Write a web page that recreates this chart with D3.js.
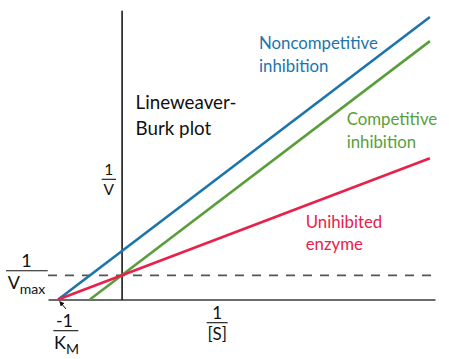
<!DOCTYPE html>
<html>
<head>
<meta charset="utf-8">
<script src="https://cdn.jsdelivr.net/npm/d3@7"></script>
<style>
  html, body { margin: 0; padding: 0; background: #fff; }
  svg { display: block; }
  text { font-family: Lato, "Open Sans", sans-serif; }
</style>
</head>
<body>
<svg id="chart" width="449" height="359"></svg>
<script>
// ---- data (1/[S] on x, 1/V on y; units of 1/Km and 1/Vmax) ----
const seriesNames = ["Noncompetitive", "Competitive", "Unihibited"];
const seriesLabels = [["Noncompetitive", "inhibition"], ["Competitive", "inhibition"], ["Unihibited", "enzyme"]];
const seriesX = [[-1, 4.86], [-0.5, 4.86], [-1, 4.86]];
const seriesY = [[0, 11.72], [0, 10.72], [0, 5.86]];
const seriesColors = ["#1b75ab", "#5a9e3c", "#e8214a"];
const xDomain = [-1.16, 4.94];
const yDomain = [0, 12];
const invVmax = 1;
const negInvKm = -1;

const svg = d3.select("#chart");
const x = d3.scaleLinear().domain(xDomain).range([48, 435]);
const y = d3.scaleLinear().domain(yDomain).range([299.5, 10.3]);

// axes (lines only)
const xAxis = svg.append("g").attr("transform", `translate(0,${y(0)})`)
  .call(d3.axisBottom(x).tickValues([]).tickSizeOuter(0));
xAxis.select(".domain").attr("stroke", "#3a3a3a").attr("stroke-width", 1.6);
const yAxis = svg.append("g").attr("transform", `translate(${x(0)},0)`)
  .call(d3.axisLeft(y).tickValues([]).tickSizeOuter(0));
yAxis.select(".domain").attr("stroke", "#1a1a1a").attr("stroke-width", 1.6);

// dashed 1/Vmax line
svg.append("line")
  .attr("x1", x(xDomain[0])).attr("x2", x(xDomain[1]))
  .attr("y1", y(invVmax)).attr("y2", y(invVmax))
  .attr("stroke", "#555").attr("stroke-width", 1.6)
  .attr("stroke-dasharray", "9,8");

// lines
const line = d3.line().x(d => x(d[0])).y(d => y(d[1]));
seriesNames.forEach((name, i) => {
  const pts = seriesX[i].map((xv, j) => [xv, seriesY[i][j]]);
  svg.append("path").datum(pts)
    .attr("d", line)
    .attr("fill", "none")
    .attr("stroke", seriesColors[i])
    .attr("stroke-width", 2.6);
});

// series labels
const labelPos = [[259, 49.3], [346.7, 125], [305.7, 227.7]];
const lh = 22.5;
seriesLabels.forEach((lines, i) => {
  const t = svg.append("text")
    .attr("x", labelPos[i][0]).attr("y", labelPos[i][1])
    .attr("fill", seriesColors[i])
    .attr("font-size", 16.8);
  lines.forEach((s, k) => {
    t.append("tspan").attr("x", labelPos[i][0]).attr("y", labelPos[i][1] + k * lh).text(s);
  });
});

// title
const title = svg.append("text").attr("font-size", 18.8).attr("fill", "#111");
title.append("tspan").attr("x", 135.5).attr("y", 109.3).text("Lineweaver-");
title.append("tspan").attr("x", 135.5).attr("y", 135).text("Burk plot");

// fraction helper
function fraction(cx, barY, barX1, barX2, num, den, sub, fs, dx) {
  svg.append("text").attr("x", cx).attr("y", barY - 4).attr("text-anchor", "middle")
    .attr("font-size", fs).attr("fill", "#111").text(num);
  svg.append("line").attr("x1", barX1).attr("x2", barX2).attr("y1", barY).attr("y2", barY)
    .attr("stroke", "#111").attr("stroke-width", 1.1);
  const d = svg.append("text").attr("x", cx + (dx || 0)).attr("y", barY + fs + 0.5)
    .attr("text-anchor", "middle").attr("font-size", fs).attr("fill", "#111");
  d.append("tspan").text(den);
  if (sub) d.append("tspan").attr("font-size", fs * 0.78).attr("dy", 5).text(sub);
}

fraction(108.8, 179.3, 101.7, 116, "1", "V", null, 15.5);
fraction(26.5, 270.7, 6, 47.7, "1", "V", "max", 18);
fraction(64.5, 330.7, 53.3, 78.3, "-1", "K", "M", 18, 2);
fraction(217.2, 322.7, 206.7, 227.7, "1", "[S]", null, 17);

// arrow pointing to -1/Km
svg.append("defs").append("marker").attr("id", "ah")
  .attr("viewBox", "0 0 10 10").attr("refX", 9).attr("refY", 5)
  .attr("markerWidth", 5).attr("markerHeight", 5).attr("orient", "auto")
  .append("path").attr("d", "M0,0L10,5L0,10z").attr("fill", "#111");
svg.append("line")
  .attr("x1", 66).attr("y1", 309).attr("x2", x(negInvKm) + 1.5).attr("y2", y(0) + 2)
  .attr("stroke", "#111").attr("stroke-width", 1).attr("marker-end", "url(#ah)");
</script>
</body>
</html>
